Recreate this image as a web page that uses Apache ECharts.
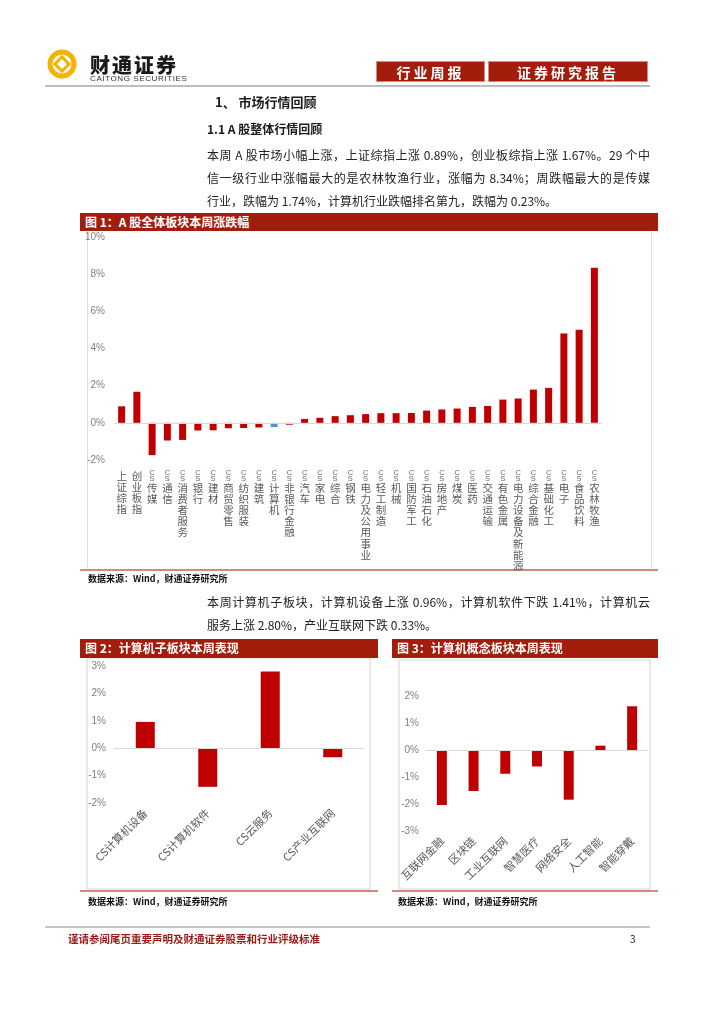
<!DOCTYPE html>
<html>
<head>
<meta charset="utf-8">
<script src="https://cdn.jsdelivr.net/npm/echarts@6/dist/echarts.min.js"></script>
<style>
html,body{margin:0;padding:0;background:#fff;}
#page{position:relative;width:724px;height:1024px;background:#fff;overflow:hidden;font-family:"Noto Sans CJK SC","Noto Sans",sans-serif;}
#chart{position:absolute;left:0;top:0;width:724px;height:1024px;}
.t{position:absolute;white-space:nowrap;color:#1a1a1a;}
.jl{position:absolute;left:207px;width:443px;font-size:12px;line-height:16px;color:#222;text-align:justify;text-align-last:justify;white-space:nowrap;}
.ll{position:absolute;left:207px;font-size:12px;line-height:16px;color:#222;white-space:nowrap;}
.bar{position:absolute;background:#a21d0b;color:#fff;font-weight:bold;font-size:12px;line-height:18px;padding-left:5px;box-sizing:border-box;white-space:nowrap;}
.hbox{position:absolute;background:#a21d0b;color:#fff;font-weight:bold;font-size:14px;text-align:center;line-height:21px;height:21px;box-sizing:border-box;border:1px solid #d88c80;letter-spacing:3px;}
.src{position:absolute;font-size:9px;font-weight:bold;color:#111;white-space:nowrap;}
</style>
</head>
<body>
<div id="page">
<div id="chart"></div>

<div class="t" style="left:90px;top:50px;font-size:20px;font-weight:900;letter-spacing:2px;">财通证券</div>
<div class="t" style="left:90px;top:74px;font-size:8px;font-family:'Liberation Sans',sans-serif;letter-spacing:0.6px;color:#333;">CAITONG SECURITIES</div>
<div class="hbox" style="left:376px;top:61px;width:109px;">行业周报</div>
<div class="hbox" style="left:488px;top:61px;width:160px;">证券研究报告</div>

<div class="t" style="left:215px;top:92px;font-size:13px;font-weight:bold;">1、 市场行情回顾</div>
<div class="t" style="left:207px;top:120px;font-size:12px;font-weight:bold;">1.1 A 股整体行情回顾</div>
<div class="jl" style="top:147px;">本周 A 股市场小幅上涨，上证综指上涨 0.89%，创业板综指上涨 1.67%。29 个中</div>
<div class="jl" style="top:170px;">信一级行业中涨幅最大的是农林牧渔行业，涨幅为 8.34%；周跌幅最大的是传媒</div>
<div class="ll" style="top:193px;">行业，跌幅为 1.74%，计算机行业跌幅排名第九，跌幅为 0.23%。</div>

<div class="bar" style="left:80px;top:213px;width:578px;height:18px;">图 1：A 股全体板块本周涨跌幅</div>
<div class="src" style="left:88px;top:572px;">数据来源：Wind，财通证券研究所</div>

<div class="jl" style="top:594px;">本周计算机子板块，计算机设备上涨 0.96%，计算机软件下跌 1.41%，计算机云</div>
<div class="ll" style="top:617px;">服务上涨 2.80%，产业互联网下跌 0.33%。</div>

<div class="bar" style="left:80px;top:639px;width:298px;height:19px;">图 2：计算机子板块本周表现</div>
<div class="bar" style="left:392px;top:639px;width:266px;height:19px;">图 3：计算机概念板块本周表现</div>
<div class="src" style="left:88px;top:895px;">数据来源：Wind，财通证券研究所</div>
<div class="src" style="left:398px;top:895px;">数据来源：Wind，财通证券研究所</div>

<div class="t" style="left:68px;top:931px;font-size:10.5px;font-weight:bold;color:#9a1a14;">谨请参阅尾页重要声明及财通证券股票和行业评级标准</div>
<div class="t" style="left:630px;top:931px;font-size:10px;color:#222;">3</div>
</div>

<script>
// ---------- data ----------
const cat1 = ['上证综指','创业板指','CS传媒','CS通信','CS消费者服务','CS银行','CS建材','CS商贸零售','CS纺织服装','CS建筑','CS计算机','CS非银行金融','CS汽车','CS家电','CS综合','CS钢铁','CS电力及公用事业','CS轻工制造','CS机械','CS国防军工','CS石油石化','CS房地产','CS煤炭','CS医药','CS交通运输','CS有色金属','CS电力设备及新能源','CS综合金融','CS基础化工','CS电子','CS食品饮料','CS农林牧渔'];
const val1 = [0.89,1.67,-1.74,-0.95,-0.92,-0.41,-0.40,-0.29,-0.28,-0.25,-0.23,-0.10,0.21,0.27,0.36,0.41,0.47,0.52,0.52,0.53,0.66,0.72,0.77,0.86,0.91,1.25,1.31,1.79,1.88,4.81,5.01,8.34];
const highlight1 = 'CS计算机';

const cat2 = ['CS计算机设备','CS计算机软件','CS云服务','CS产业互联网'];
const val2 = [0.96,-1.41,2.80,-0.33];

const cat3 = ['互联网金融','区块链','工业互联网','智慧医疗','网络安全','人工智能','智能穿戴'];
const val3 = [-2.04,-1.52,-0.88,-0.61,-1.84,0.16,1.62];

const yTicks1 = {min:-2, max:10, interval:2};
const yTicks2 = {min:-2, max:3, interval:1};
const yTicks3 = {min:-3, max:2, interval:1};

// ---------- styles ----------
const RED = '#c00000', BLUE = '#5b8fd3';
const axisLabelY = {color:'#7f7f7f', fontSize:10, fontFamily:'Liberation Sans, Arial, sans-serif', formatter: v => v + '%'};
const zeroLine = {silent:true, symbol:'none', label:{show:false}, lineStyle:{color:'#d9d9d9', type:'solid', width:1}, data:[{yAxis:0}]};

function vertLabel(name){
  let out = [];
  let rest = name;
  if (name.indexOf('CS') === 0){ out.push('{cs|C}','{cs|S}'); rest = name.slice(2); }
  for (const ch of rest) out.push(ch);
  return out.join('\n');
}

const chart = echarts.init(document.getElementById('chart'), null, {renderer:'canvas'});
chart.setOption({
  animation:false,
  backgroundColor:'transparent',
  grid:[
    {left:114, top:237, width:488, height:223},
    {left:114, top:666, width:250, height:137},
    {left:426, top:696, width:222, height:135}
  ],
  xAxis:[
    {gridIndex:0, type:'category', data:cat1, axisLine:{show:false, onZero:false}, axisTick:{show:false},
     axisLabel:{interval:0, margin:10, color:'#595959', fontSize:10.5, lineHeight:11.2, verticalAlign:'top',
       fontFamily:'Noto Sans CJK SC', formatter: vertLabel,
       rich:{cs:{fontSize:7.5, lineHeight:6, color:'#666', fontFamily:'Liberation Sans'}}}},
    {gridIndex:1, type:'category', data:cat2, axisLine:{show:false, onZero:false}, axisTick:{show:false},
     axisLabel:{interval:0, rotate:45, margin:8, color:'#595959', fontSize:11, fontFamily:'Noto Sans CJK SC'}},
    {gridIndex:2, type:'category', data:cat3, axisLine:{show:false, onZero:false}, axisTick:{show:false},
     axisLabel:{interval:0, rotate:45, margin:8, color:'#595959', fontSize:11, fontFamily:'Noto Sans CJK SC'}}
  ],
  yAxis:[
    Object.assign({gridIndex:0, type:'value', axisLine:{show:false}, axisTick:{show:false}, splitLine:{show:false}, axisLabel:Object.assign({margin:9}, axisLabelY)}, yTicks1),
    Object.assign({gridIndex:1, type:'value', axisLine:{show:false}, axisTick:{show:false}, splitLine:{show:false}, axisLabel:Object.assign({margin:8}, axisLabelY)}, yTicks2),
    Object.assign({gridIndex:2, type:'value', axisLine:{show:false}, axisTick:{show:false}, splitLine:{show:false}, axisLabel:Object.assign({margin:7}, axisLabelY)}, yTicks3)
  ],
  series:[
    {type:'bar', xAxisIndex:0, yAxisIndex:0, data:val1, barWidth:7,
     itemStyle:{color: p => p.name === highlight1 ? BLUE : RED}, markLine:zeroLine, z:3},
    {type:'bar', xAxisIndex:1, yAxisIndex:1, data:val2, barWidth:19, itemStyle:{color:RED}, markLine:zeroLine, z:3},
    {type:'bar', xAxisIndex:2, yAxisIndex:2, data:val3, barWidth:10, itemStyle:{color:RED}, markLine:zeroLine, z:3}
  ],
  graphic:[
    // logo
    {type:'circle', shape:{cx:62, cy:64, r:12}, style:{fill:'none', stroke:'#f4b300', lineWidth:5}},
    {type:'rect', shape:{x:-5, y:-5, width:10, height:10}, x:62, y:64, rotation:Math.PI/4, style:{fill:'none', stroke:'#f4b300', lineWidth:3}},
    // header & footer rules
    {type:'line', shape:{x1:45, y1:86, x2:650, y2:86}, style:{stroke:'#bdbdbd', lineWidth:2}},
    {type:'line', shape:{x1:45, y1:927, x2:650, y2:927}, style:{stroke:'#c4c4c4', lineWidth:2}},
    // fig1 frame
    {type:'line', shape:{x1:87.5, y1:231, x2:87.5, y2:569}, style:{stroke:'#dedede', lineWidth:1}},
    {type:'line', shape:{x1:651.5, y1:231, x2:651.5, y2:569}, style:{stroke:'#dedede', lineWidth:1}},
    {type:'line', shape:{x1:80, y1:570, x2:658, y2:570}, style:{stroke:'#c8604f', lineWidth:1.5}},
    // fig2 frame
    {type:'rect', shape:{x:87, y:658, width:283, height:231}, style:{fill:'none', stroke:'#e3e3e3', lineWidth:1.5}},
    {type:'line', shape:{x1:80, y1:891, x2:378, y2:891}, style:{stroke:'#c8604f', lineWidth:1.5}},
    // fig3 frame
    {type:'rect', shape:{x:399, y:660, width:251, height:229}, style:{fill:'none', stroke:'#e3e3e3', lineWidth:1.5}},
    {type:'line', shape:{x1:392, y1:891, x2:658, y2:891}, style:{stroke:'#c8604f', lineWidth:1.5}}
  ]
});
</script>
</body>
</html>
